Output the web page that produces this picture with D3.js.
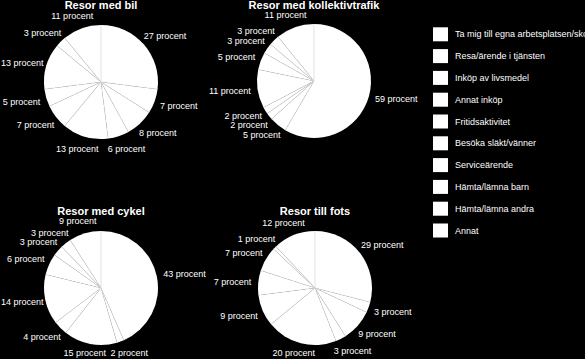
<!DOCTYPE html>
<html><head><meta charset="utf-8">
<script src="https://cdn.jsdelivr.net/npm/d3@7"></script>
<style>html,body{margin:0;padding:0;background:#000;overflow:hidden}</style>
</head><body><svg id="c" width="585" height="359"></svg>
<script>
const categories = ["Ta mig till egna arbetsplatsen/skola","Resa/ärende i tjänsten","Inköp av livsmedel","Annat inköp","Fritidsaktivitet","Besöka släkt/vänner","Serviceärende","Hämta/lämna barn","Hämta/lämna andra","Annat"];
const pieTitles = ["Resor med bil","Resor med kollektivtrafik","Resor med cykel","Resor till fots"];
const bilValues = [27,7,8,6,13,7,5,13,3,11];
const kollektivValues = [59,5,2,2,11,5,3,3,0,11];
const cykelValues = [43,2,15,4,14,6,3,3,0,9];
const fotsValues = [29,3,9,3,20,9,7,7,1,12];
const unitLabel = "procent";

const series = [bilValues, kollektivValues, cykelValues, fotsValues];
const layout = [
  {cx:101, cy:82, ty:9},
  {cx:314, cy:81, ty:9},
  {cx:101, cy:288, ty:215},
  {cx:315, cy:288, ty:214.5}
];
const R = 57;
const FONT = "'Liberation Sans', Arial, sans-serif";
const svg = d3.select("#c");
svg.append("rect").attr("width",585).attr("height",359).attr("fill","#000");

const pie = d3.pie().sort(null).value(d=>d);
const arc = d3.arc().innerRadius(0).outerRadius(R);
const dashes = [null,"4,2","2,1.5","1,1","3,2","1,1","2,2","4,2","1,1","3,1.5"];

series.forEach((vals, si) => {
  const L = layout[si];
  const g = svg.append("g").attr("transform",`translate(${L.cx},${L.cy})`);
  const arcs = pie(vals);
  g.selectAll("path.s").data(arcs).join("path").attr("class","s")
    .attr("d",arc).attr("fill","#fff").attr("stroke","none");
  g.selectAll("line.d").data(arcs.filter(a=>a.data>0)).join("line").attr("class","d")
    .attr("x1",0).attr("y1",0)
    .attr("x2",a=>R*Math.sin(a.startAngle)).attr("y2",a=>-R*Math.cos(a.startAngle))
    .attr("stroke","#d6d6d6").attr("stroke-width",0.7)
    .attr("stroke-dasharray",(a)=>dashes[a.index]);
  svg.append("text").attr("x",L.cx).attr("y",L.ty).attr("text-anchor","middle")
    .attr("font-family",FONT).attr("font-weight","bold").attr("font-size","11px")
    .attr("fill","#fff").text(pieTitles[si]);
  const labs = arcs.filter(a=>a.data>0).map(a=>{
    const m = (a.startAngle+a.endAngle)/2;
    const t = svg.append("text").attr("font-family",FONT).attr("font-size","9px")
      .attr("fill","#fff").attr("text-anchor","middle").attr("dy","0.35em")
      .text(a.data+" "+unitLabel);
    const w = t.node().getComputedTextLength();
    const px = L.cx + (R+7)*Math.sin(m), py = L.cy - (R+7)*Math.cos(m);
    return {t, w, x: px + Math.sin(m)*w/2, y: py - Math.cos(m)*6};
  });
  const clamp = l => {
    l.x = Math.max(1+l.w/2, Math.min(584-l.w/2, l.x));
    l.y = Math.max(6, Math.min(353, l.y));
  };
  labs.forEach(clamp);
  const H = 9;
  for (let it=0; it<60; it++) {
    for (let i=0;i<labs.length;i++) for (let j=i+1;j<labs.length;j++) {
      const a=labs[i], b=labs[j];
      const ox = Math.min(a.x+a.w/2,b.x+b.w/2) - Math.max(a.x-a.w/2,b.x-b.w/2);
      const oy = H - Math.abs(a.y-b.y);
      if (ox>0 && oy>0) {
        if (Math.abs(a.y-b.y) < 4) {
          // mostly side by side on same row: separate horizontally
          const s = a.x<=b.x ? 1 : -1;
          a.x -= s*(ox+2)/2; b.x += s*(ox+2)/2;
        } else {
          const s = a.y<=b.y ? 1 : -1;
          a.y -= s*oy/2; b.y += s*oy/2;
        }
      }
    }
    labs.forEach(clamp);
  }
  labs.forEach(l=>l.t.attr("x",l.x).attr("y",l.y));
});

const lg = svg.append("g");
categories.forEach((c,i)=>{
  const y = 27.3 + i*21.8;
  lg.append("rect").attr("x",433).attr("y",y).attr("width",15).attr("height",14).attr("fill","#fff");
  lg.append("text").attr("x",455).attr("y",y+7).attr("dy","0.35em")
    .attr("font-family",FONT).attr("font-size","9px").attr("fill","#fff").text(c);
});
</script></body></html>
